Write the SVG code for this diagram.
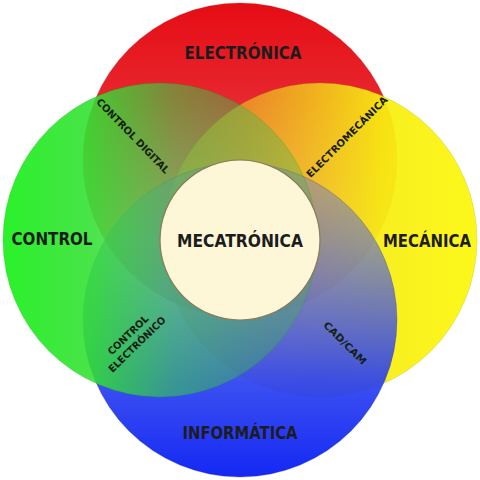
<svg xmlns="http://www.w3.org/2000/svg" width="480" height="480" viewBox="0 0 480 480">
<defs>
<linearGradient id="gR" x1="0" y1="0" x2="0" y2="1">
<stop offset="0" stop-color="#e60c14" stop-opacity="1"/>
<stop offset="0.3" stop-color="#e61a22" stop-opacity="0.95"/>
<stop offset="1" stop-color="#d84a4a" stop-opacity="0.45"/>
</linearGradient>
<linearGradient id="gG" x1="0" y1="0" x2="1" y2="0">
<stop offset="0" stop-color="#2af22a" stop-opacity="1"/>
<stop offset="0.28" stop-color="#30e030" stop-opacity="0.88"/>
<stop offset="0.55" stop-color="#38d048" stop-opacity="0.55"/>
<stop offset="1" stop-color="#40b050" stop-opacity="0.3"/>
</linearGradient>
<linearGradient id="gY" x1="1" y1="0" x2="0" y2="0">
<stop offset="0" stop-color="#fcf81a" stop-opacity="1"/>
<stop offset="0.3" stop-color="#f8ee10" stop-opacity="0.93"/>
<stop offset="1" stop-color="#e8b030" stop-opacity="0.42"/>
</linearGradient>
<linearGradient id="gB" x1="0" y1="1" x2="0" y2="0">
<stop offset="0" stop-color="#1428f4" stop-opacity="1"/>
<stop offset="0.3" stop-color="#2a40f0" stop-opacity="0.92"/>
<stop offset="1" stop-color="#7078c8" stop-opacity="0.4"/>
</linearGradient>
<style>
.big{font-family:"DejaVu Sans","Liberation Sans",sans-serif;font-weight:bold;font-size:17px;fill:#1c1c1c;text-anchor:middle}
.small{font-family:"DejaVu Sans","Liberation Sans",sans-serif;font-weight:bold;font-size:10px;fill:#142010;text-anchor:middle}
.ring{stroke-width:1;stroke-opacity:0.25}
</style>
</defs>
<g id="areas">
<g id="electronica"><circle cx="240" cy="160" r="157" fill="url(#gR)" class="ring" stroke="#a01010"/></g>
<g id="mecanica"><circle cx="320" cy="240" r="157" fill="url(#gY)" class="ring" stroke="#a0a010"/></g>
<g id="informatica"><circle cx="240" cy="320" r="157" fill="url(#gB)" class="ring" stroke="#1020a0"/></g>
<g id="control"><circle cx="160" cy="240" r="157" fill="url(#gG)" class="ring" stroke="#10a010"/></g>
</g>
<g id="mecatronica"><circle cx="240" cy="240" r="80" fill="#fdf7d8" stroke="#8a7a56" stroke-width="1.2"/></g>
<g id="labels">
<text class="big" x="243" y="59" textLength="117" lengthAdjust="spacingAndGlyphs">ELECTRÓNICA</text>
<text class="big" x="52" y="245" textLength="81" lengthAdjust="spacingAndGlyphs">CONTROL</text>
<text class="big" x="427" y="247" textLength="88" lengthAdjust="spacingAndGlyphs">MECÁNICA</text>
<text class="big" x="240" y="439" textLength="115" lengthAdjust="spacingAndGlyphs">INFORMÁTICA</text>
<text class="big" x="240" y="247" textLength="126" lengthAdjust="spacingAndGlyphs">MECATRÓNICA</text>
</g>
<g id="cruces">
<text class="small" transform="translate(133,136) rotate(46)" y="3.5" textLength="100" lengthAdjust="spacingAndGlyphs">CONTROL DIGITAL</text>
<text class="small" transform="translate(347,137) rotate(-45)" y="3.5" textLength="110" lengthAdjust="spacingAndGlyphs">ELECTROMECÁNICA</text>
<text class="small" transform="translate(128,335) rotate(-44)" y="3.5" textLength="52" lengthAdjust="spacingAndGlyphs">CONTROL</text>
<text class="small" transform="translate(128,335) rotate(-44)" y="16.5" textLength="75" lengthAdjust="spacingAndGlyphs">ELECTRÓNICO</text>
<text class="small" transform="translate(345,343) rotate(45)" y="3.5" textLength="56" lengthAdjust="spacingAndGlyphs">CAD/CAM</text>
</g>
</svg>
